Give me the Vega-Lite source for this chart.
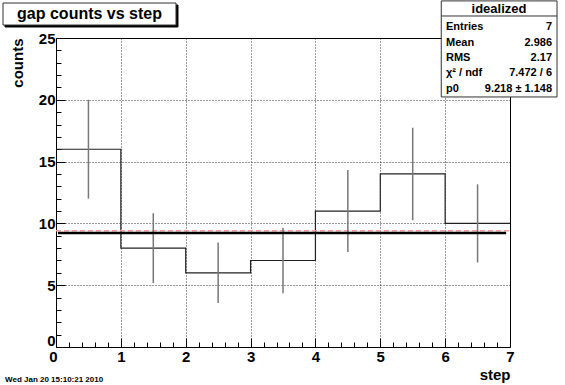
{
  "$schema": "https://vega.github.io/schema/vega-lite/v6.json",
  "width": 454,
  "height": 309,
  "autosize": {"type": "none"},
  "padding": {"left": 56, "top": 38, "right": 55, "bottom": 38},
  "background": "white",
  "config": {"view": {"stroke": "black", "strokeWidth": 1}, "font": "Liberation Sans"},
  "datasets": {
    "hist": [
      {"step": 0, "counts": 16}, {"step": 1, "counts": 8}, {"step": 2, "counts": 6},
      {"step": 3, "counts": 7}, {"step": 4, "counts": 11}, {"step": 5, "counts": 14},
      {"step": 6, "counts": 10}, {"step": 7, "counts": 10}
    ],
    "errors": [
      {"step": 0.5, "lo": 12.0, "hi": 20.0},
      {"step": 1.5, "lo": 5.17, "hi": 10.83},
      {"step": 2.5, "lo": 3.55, "hi": 8.45},
      {"step": 3.5, "lo": 4.35, "hi": 9.65},
      {"step": 4.5, "lo": 7.68, "hi": 14.32},
      {"step": 5.5, "lo": 10.26, "hi": 17.74},
      {"step": 6.5, "lo": 6.84, "hi": 13.16}
    ],
    "fit": [{"from": 0.03, "to": 6.94, "p0": 9.218}],
    "ref": [{"from": 0, "to": 7, "level": 9.4}]
  },
  "layer": [
    {
      "data": {"name": "hist"},
      "mark": {"type": "line", "interpolate": "step-after", "color": "#222", "strokeWidth": 1.2},
      "encoding": {
        "x": {
          "field": "step", "type": "quantitative",
          "scale": {"domain": [0, 7], "nice": false, "zero": false},
          "axis": {
            "title": "step", "titleFont": "Liberation Sans", "titleFontSize": 15, "titleFontWeight": "bold", "titleColor": "black",
            "titleX": 454, "titleY": 27, "titleAlign": "right", "titleBaseline": "middle",
            "values": [0,0.2,0.4,0.6,0.8,1,1.2,1.4,1.6,1.8,2,2.2,2.4,2.6,2.8,3,3.2,3.4,3.6,3.8,4,4.2,4.4,4.6,4.8,5,5.2,5.4,5.6,5.8,6,6.2,6.4,6.6,6.8,7],
            "tickCount": 200,
            "domain": false,
            "tickColor": "black",
            "tickSize": {"condition": {"test": "datum.value % 1 === 0", "value": -9}, "value": -5},
            "labelExpr": "datum.value % 1 === 0 ? format(datum.value, 'd') : ''",
            "labelFont": "Liberation Sans", "labelFontSize": 15, "labelFontWeight": "bold", "labelColor": "black",
            "labelPadding": 11, "labelOverlap": false, "labelFlush": false,
            "labelOffset": {"condition": {"test": "datum.value === 0", "value": -3}, "value": 0},
            "grid": true, "gridColor": "black", "gridDash": [1, 2], "gridWidth": 1,
            "gridOpacity": {"condition": {"test": "datum.value % 1 === 0 && datum.value > 0 && datum.value < 7", "value": 0.8}, "value": 0}
          }
        },
        "y": {
          "field": "counts", "type": "quantitative",
          "scale": {"domain": [0, 25], "nice": false},
          "axis": {
            "title": "counts", "titleFont": "Liberation Sans", "titleFontSize": 15, "titleFontWeight": "bold", "titleColor": "black",
            "titleX": -39, "titleY": 0, "titleAlign": "right", "titleBaseline": "middle", "titleAngle": 270,
            "values": [0,1,2,3,4,5,6,7,8,9,10,11,12,13,14,15,16,17,18,19,20,21,22,23,24,25],
            "tickCount": 200,
            "domain": false,
            "tickColor": "black",
            "tickSize": {"condition": {"test": "datum.value % 5 === 0", "value": -9}, "value": -5},
            "labelExpr": "datum.value % 5 === 0 ? format(datum.value, 'd') : ''",
            "labelFont": "Liberation Sans", "labelFontSize": 15, "labelFontWeight": "bold", "labelColor": "black",
            "labelPadding": 10, "labelOverlap": false, "labelFlush": false,
            "labelOffset": {"condition": {"test": "datum.value === 0", "value": -7}, "value": 0},
            "grid": true, "gridColor": "black", "gridDash": [1, 2], "gridWidth": 1,
            "gridOpacity": {"condition": {"test": "datum.value % 5 === 0 && datum.value > 0 && datum.value < 25", "value": 0.8}, "value": 0}
          }
        }
      }
    },
    {
      "data": {"name": "ref"},
      "mark": {"type": "rule", "color": "#f4a0a0", "strokeWidth": 1.5, "strokeDash": [5, 3]},
      "encoding": {
        "x": {"field": "from", "type": "quantitative", "title": "step"},
        "x2": {"field": "to"},
        "y": {"field": "level", "type": "quantitative", "title": "counts"}
      }
    },
    {
      "data": {"name": "errors"},
      "mark": {"type": "rule", "color": "#777", "strokeWidth": 1.5},
      "encoding": {
        "x": {"field": "step", "type": "quantitative", "title": "step"},
        "y": {"field": "lo", "type": "quantitative", "title": "counts"},
        "y2": {"field": "hi"}
      }
    },
    {
      "data": {"name": "fit"},
      "mark": {"type": "rule", "color": "black", "strokeWidth": 2.5},
      "encoding": {
        "x": {"field": "from", "type": "quantitative", "title": "step"},
        "x2": {"field": "to"},
        "y": {"field": "p0", "type": "quantitative", "title": "counts"}
      }
    },
    {
      "data": {"values": [{}]},
      "mark": {"type": "rect", "fill": "black", "stroke": "black", "strokeWidth": 1},
      "encoding": {"x": {"datum": -0.786}, "x2": {"datum": 1.881}, "y": {"datum": 27.67}, "y2": {"datum": 25.89}}
    },
    {
      "data": {"values": [{}]},
      "mark": {"type": "rect", "fill": "white", "stroke": "#333", "strokeWidth": 1},
      "encoding": {"x": {"datum": -0.817}, "x2": {"datum": 1.85}, "y": {"datum": 27.83}, "y2": {"datum": 26.05}}
    },
    {
      "data": {"values": [{"t": "gap counts vs step"}]},
      "mark": {"type": "text", "font": "Liberation Sans", "fontSize": 16, "fontWeight": "bold", "color": "black", "align": "center", "baseline": "middle"},
      "encoding": {"x": {"datum": 0.517}, "y": {"datum": 26.94}, "text": {"field": "t"}}
    },
    {
      "data": {"values": [{}]},
      "mark": {"type": "rect", "fill": "white", "stroke": "#333", "strokeWidth": 1},
      "encoding": {"x": {"datum": 5.94}, "x2": {"datum": 7.725}, "y": {"datum": 28.0}, "y2": {"datum": 20.23}}
    },
    {
      "data": {"values": [{}]},
      "mark": {"type": "rule", "color": "#333", "strokeWidth": 1},
      "encoding": {"x": {"datum": 5.94}, "x2": {"datum": 7.725}, "y": {"datum": 26.78}}
    },
    {
      "data": {"values": [{"t": "idealized"}]},
      "mark": {"type": "text", "font": "Liberation Sans", "fontSize": 13, "fontWeight": "bold", "color": "black", "align": "center", "baseline": "middle"},
      "encoding": {"x": {"datum": 6.83}, "y": {"datum": 27.35}, "text": {"field": "t"}}
    },
    {
      "data": {"values": [{"t": "Entries"}]},
      "mark": {"type": "text", "font": "Liberation Sans", "fontSize": 11, "fontWeight": "bold", "color": "black", "align": "left", "baseline": "middle"},
      "encoding": {"x": {"datum": 6.013}, "y": {"datum": 25.89}, "text": {"field": "t"}}
    },
    {
      "data": {"values": [{"t": "7"}]},
      "mark": {"type": "text", "font": "Liberation Sans", "fontSize": 11, "fontWeight": "bold", "color": "black", "align": "right", "baseline": "middle"},
      "encoding": {"x": {"datum": 7.648}, "y": {"datum": 25.89}, "text": {"field": "t"}}
    },
    {
      "data": {"values": [{"t": "Mean"}]},
      "mark": {"type": "text", "font": "Liberation Sans", "fontSize": 11, "fontWeight": "bold", "color": "black", "align": "left", "baseline": "middle"},
      "encoding": {"x": {"datum": 6.013}, "y": {"datum": 24.6}, "text": {"field": "t"}}
    },
    {
      "data": {"values": [{"t": "2.986"}]},
      "mark": {"type": "text", "font": "Liberation Sans", "fontSize": 11, "fontWeight": "bold", "color": "black", "align": "right", "baseline": "middle"},
      "encoding": {"x": {"datum": 7.648}, "y": {"datum": 24.6}, "text": {"field": "t"}}
    },
    {
      "data": {"values": [{"t": "RMS"}]},
      "mark": {"type": "text", "font": "Liberation Sans", "fontSize": 11, "fontWeight": "bold", "color": "black", "align": "left", "baseline": "middle"},
      "encoding": {"x": {"datum": 6.013}, "y": {"datum": 23.38}, "text": {"field": "t"}}
    },
    {
      "data": {"values": [{"t": "2.17"}]},
      "mark": {"type": "text", "font": "Liberation Sans", "fontSize": 11, "fontWeight": "bold", "color": "black", "align": "right", "baseline": "middle"},
      "encoding": {"x": {"datum": 7.648}, "y": {"datum": 23.38}, "text": {"field": "t"}}
    },
    {
      "data": {"values": [{"t": "χ² / ndf"}]},
      "mark": {"type": "text", "font": "Liberation Sans", "fontSize": 11, "fontWeight": "bold", "color": "black", "align": "left", "baseline": "middle"},
      "encoding": {"x": {"datum": 6.013}, "y": {"datum": 22.17}, "text": {"field": "t"}}
    },
    {
      "data": {"values": [{"t": "7.472 / 6"}]},
      "mark": {"type": "text", "font": "Liberation Sans", "fontSize": 11, "fontWeight": "bold", "color": "black", "align": "right", "baseline": "middle"},
      "encoding": {"x": {"datum": 7.648}, "y": {"datum": 22.17}, "text": {"field": "t"}}
    },
    {
      "data": {"values": [{"t": "p0"}]},
      "mark": {"type": "text", "font": "Liberation Sans", "fontSize": 11, "fontWeight": "bold", "color": "black", "align": "left", "baseline": "middle"},
      "encoding": {"x": {"datum": 6.013}, "y": {"datum": 20.87}, "text": {"field": "t"}}
    },
    {
      "data": {"values": [{"t": "9.218 ± 1.148"}]},
      "mark": {"type": "text", "font": "Liberation Sans", "fontSize": 11, "fontWeight": "bold", "color": "black", "align": "right", "baseline": "middle"},
      "encoding": {"x": {"datum": 7.648}, "y": {"datum": 20.87}, "text": {"field": "t"}}
    },
    {
      "data": {"values": [{"t": "Wed Jan 20 15:10:21 2010"}]},
      "mark": {"type": "text", "font": "Liberation Sans", "fontSize": 8, "fontWeight": "bold", "color": "black", "align": "left", "baseline": "middle"},
      "encoding": {"x": {"datum": -0.786}, "y": {"datum": -2.67}, "text": {"field": "t"}}
    }
  ]
}
